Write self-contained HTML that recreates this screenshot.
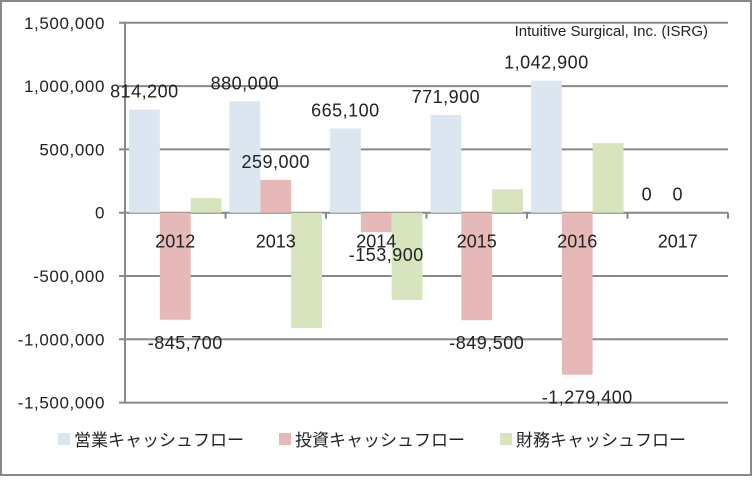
<!DOCTYPE html>
<html><head><meta charset="utf-8"><style>
body{margin:0;background:#fff}
text{font-family:"Liberation Sans","Noto Sans CJK JP",sans-serif}
</style></head><body>
<svg id="c" width="752" height="476" xmlns="http://www.w3.org/2000/svg">
<rect x="1" y="1" width="750" height="474" fill="#fff" stroke="#888" stroke-width="2"/>
<text x="708" y="36" text-anchor="end" font-size="15" fill="#222">Intuitive Surgical, Inc. (ISRG)</text>
<g id="grid"></g><g id="bars"></g><g id="labels"></g>
<g id="legend"></g>
</svg>
<script>
const categories=["2012","2013","2014","2015","2016","2017"];
const operating=[814200,880000,665100,771900,1042900,0];
const investing=[-845700,259000,-153900,-849500,-1279400,0];
const financing=[115000,-910000,-690000,185000,550000,0];
const yTicks=[1500000,1000000,500000,0,-500000,-1000000,-1500000];
const yTickLabels=["1,500,000","1,000,000","500,000","0","-500,000","-1,000,000","-1,500,000"];
const seriesNames=["営業キャッシュフロー","投資キャッシュフロー","財務キャッシュフロー"];
const colors=["#dce6f1","#e6b9b8","#d7e4bd"];
const NS="http://www.w3.org/2000/svg";
const x0=125,x1=728,y0v=212.7,pxPer=63.3/500000;
const y=v=>y0v-v*pxPer;
const gw=(x1-x0)/categories.length;
function mk(t,a,p){const e=document.createElementNS(NS,t);for(const k in a)e.setAttribute(k,a[k]);p.appendChild(e);return e;}
const grid=document.getElementById('grid'),bars=document.getElementById('bars'),labels=document.getElementById('labels');
yTicks.forEach((v,i)=>{
 const l=mk('line',{x1:x0-6,x2:x1,y1:y(v),y2:y(v),stroke:'#888','stroke-width':2},grid);
 
 
 const t=mk('text',{x:x0-20,y:y(v)+6,'text-anchor':'end','font-size':17,'letter-spacing':0.6,fill:'#222'},grid);
 t.textContent=yTickLabels[i];
 
 
});
const ax=mk('line',{x1:x0,x2:x0,y1:y(1500000),y2:y(-1500000),stroke:'#888','stroke-width':2},grid);


const series=[operating,investing,financing];
const bw=(gw-8)/3;
categories.forEach((c,i)=>{
 const gx=x0+i*gw;
 const tk=mk('line',{x1:gx+gw,x2:gx+gw,y1:y0v,y2:y0v+6,stroke:'#888','stroke-width':2},grid);
 
 
 series.forEach((s,j)=>{
  const v=s[i],bx=gx+4+j*bw;
  const r=mk('rect',{x:bx,y:Math.min(y(v),y0v),width:bw,height:Math.abs(y(v)-y0v),fill:colors[j]},bars);
  
  
  if(j<2){
   const t=mk('text',{x:bx+bw/2+(j==1&&v<0?10:0),y:v<0?y(v)+29:y(v)-12,'text-anchor':'middle','font-size':18,'letter-spacing':0.5,fill:'#222'},labels);
   t.textContent=v.toLocaleString('en-US');
   
   
  }
 });
 const t=mk('text',{x:gx+gw/2,y:y0v+35,'text-anchor':'middle','font-size':18,fill:'#222'},labels);
 t.textContent=c;
 
 
});
const lg=document.getElementById('legend');
const lx=[58,279,500];
seriesNames.forEach((n,j)=>{
 const r=mk('rect',{x:lx[j],y:433,width:12,height:12,fill:colors[j]},lg);
 
 
 const t=mk('text',{x:lx[j]+16,y:446,'font-size':17,fill:'#222'},lg);
 t.textContent=n;
 
 
});
</script>
</body></html>
